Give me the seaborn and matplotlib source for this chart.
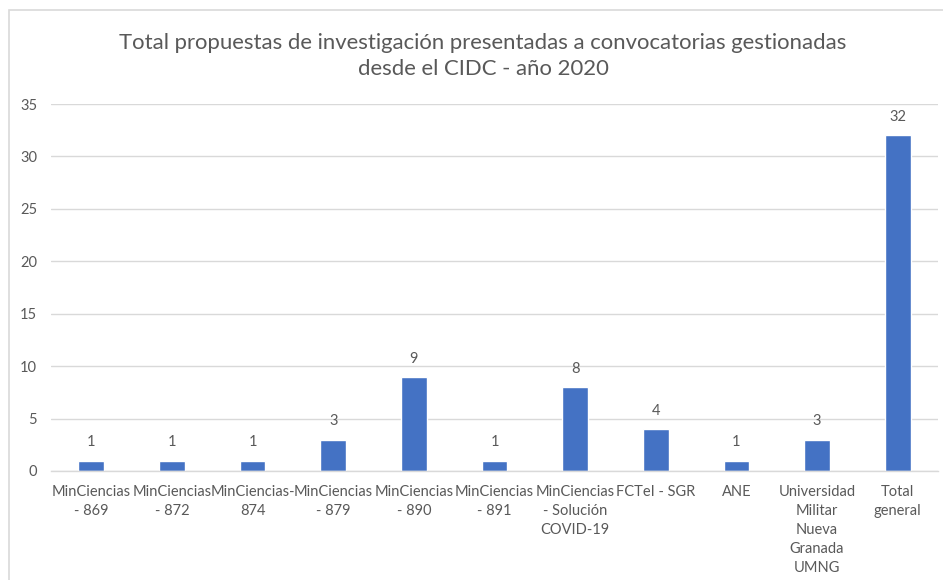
import matplotlib
matplotlib.use("Agg")
import matplotlib.pyplot as plt
import seaborn as sns
import pandas as pd
from matplotlib.patches import Rectangle

categories = ["MinCiencias\n- 869", "MinCiencias\n- 872", "MinCiencias-\n874", "MinCiencias\n- 879",
              "MinCiencias\n- 890", "MinCiencias\n- 891", "MinCiencias\n- Solución\nCOVID-19",
              "FCTeI - SGR", "ANE", "Universidad\nMilitar\nNueva\nGranada\nUMNG", "Total\ngeneral"]
values = [1, 1, 1, 3, 9, 1, 8, 4, 1, 3, 32]
yticks = [0, 5, 10, 15, 20, 25, 30, 35]
title = "Total propuestas de investigación presentadas a convocatorias gestionadas\ndesde el CIDC - año 2020"

sns.set_theme(style="white")
plt.rcParams['font.family'] = ['Lato', 'DejaVu Sans']

txt = "#595959"
grid = "#d9d9d9"
bar_color = "#4472c4"

df = pd.DataFrame({"cat": categories, "val": values})

fig = plt.figure(figsize=(9.43, 5.80), dpi=100)
ax = fig.add_axes([51/943, 1-471/580, (938-51)/943, (471-104)/580])

sns.barplot(data=df, x="cat", y="val", color=bar_color, width=0.32, saturation=1, ax=ax)

ax.set_xlim(-0.5, len(categories)-0.5)
ax.set_ylim(0, 35)
ax.set_yticks(yticks)
ax.set_yticklabels([str(t) for t in yticks], fontsize=10.5, color=txt)
ax.tick_params(axis='y', length=0, pad=10)
ax.tick_params(axis='x', length=0, pad=10, labelsize=10.5, labelcolor=txt)
for lab in ax.get_xticklabels():
    lab.set_linespacing(1.45)
ax.yaxis.grid(True, color=grid, linewidth=1)
ax.set_axisbelow(True)
for s in ["top", "right", "left"]:
    ax.spines[s].set_visible(False)
ax.spines["bottom"].set_color(grid)
ax.spines["bottom"].set_linewidth(1)
ax.set_xlabel("")
ax.set_ylabel("")

for c in ax.containers:
    ax.bar_label(c, labels=[str(v) for v in values], padding=8, fontsize=10.5, color=txt)

fig.text(483/943, 1-56/580, title, ha="center", va="center", fontsize=15.9, color=txt, linespacing=1.35)

# chart border (left and top visible)
fig.patches.append(Rectangle((9/943, -0.1), 1.2, 1-10/580+0.1, transform=fig.transFigure,
                             fill=False, edgecolor=grid, linewidth=1.2))

fig.savefig("out.png", dpi=100)
